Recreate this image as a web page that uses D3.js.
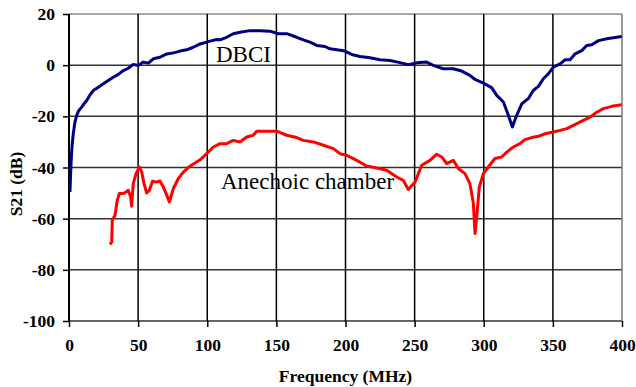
<!DOCTYPE html>
<html>
<head>
<meta charset="utf-8">
<script src="https://d3js.org/d3.v7.min.js"></script>
<style type="text/css">
    body { margin: 0; background: #fff; }
</style>
</head>
<body>
<script type="text/javascript">

// DBCI series (frequency MHz, S21 dB)
var dbciFreq = [0.7, 1.2, 1.7, 2.3, 3.1, 4.2, 5.6, 7, 9, 11, 12.8, 15, 17.6, 21.2, 24.8, 28.4, 32, 35.7, 39.3, 42.9, 46.5, 50.1, 53.7, 57.4, 61, 65.8, 70.7, 75.5, 80.3, 85.1, 89.9, 94.8, 99.6, 102, 106.8, 109.2, 114, 118.8, 123.7, 130.9, 138.2, 145.4, 151.4, 157.5, 164.7, 169.5, 174.3, 179.2, 185.2, 188.8, 193.6, 199.6, 204.5, 210.5, 217.7, 225, 232.2, 239.4, 245.4, 251.5, 258.7, 263.5, 270.7, 278, 284, 290, 293.7, 299.7, 305.7, 309.4, 314.2, 317.8, 320.7, 323.8, 327.5, 332.2, 335.8, 339.5, 343.1, 346.7, 350.3, 355.2, 358.8, 362.4, 366, 370.9, 374.5, 378.1, 383, 389, 393.8, 399.8];
var dbciS21 = [-49.6, -42, -36, -31, -26.8, -22.5, -19.6, -17.8, -16.5, -15, -13.8, -11.8, -9.9, -8.6, -7.3, -6.0, -4.7, -3.6, -2.1, -1.2, 0.3, -0.1, 1.2, 0.8, 2.5, 3.1, 4.4, 4.8, 5.5, 6.0, 7.0, 8.3, 9.0, 9.4, 10.0, 9.9, 10.9, 12.3, 12.9, 13.5, 13.5, 13.3, 12.3, 12.3, 10.9, 9.9, 9.0, 7.7, 7.3, 6.4, 6.0, 5.5, 4.2, 3.4, 2.9, 2.1, 1.8, 1.0, 0.2, 0.9, 1.2, -0.1, -1.4, -1.4, -2.3, -4.0, -5.6, -7.0, -8.8, -11.8, -14.4, -19.6, -24.2, -19.6, -15.1, -13.1, -9.9, -8.3, -5.3, -3.4, -0.8, 0.5, 2.1, 2.1, 4.4, 5.7, 7.7, 8.0, 9.6, 10.3, 10.7, 11.2];

// Anechoic chamber series
var anechFreq = [29.7, 30.9, 31.3, 33.3, 34.9, 36.4, 39.3, 41.2, 42.9, 44.6, 45.3, 46.5, 48.5, 50.9, 52.6, 54.3, 56.2, 58.1, 60.5, 62.9, 65.8, 68.2, 70.7, 72.6, 75.5, 79.1, 82.7, 87.5, 94.8, 99.6, 104.4, 109.2, 114, 118.8, 123.7, 128.5, 133.3, 135.8, 143, 150.2, 157.5, 164.7, 169.5, 176.7, 184, 191.2, 196, 200.9, 208.1, 215.3, 222.6, 229.8, 237, 241.8, 245.4, 250.3, 255.1, 261.1, 266, 269.6, 273.2, 278, 281.6, 286.4, 290, 292.5, 293.7, 294.9, 296.8, 299.7, 303.3, 308.1, 313, 316.6, 321.4, 326.2, 329.8, 334.7, 339.5, 344.3, 350.3, 355.2, 360, 364.8, 370.9, 376.9, 381.7, 386.5, 392.6, 399.8];
var anechS21 = [-70.1, -69.1, -60.6, -58.7, -52.8, -50.2, -50.2, -49.6, -48.9, -51.5, -55.1, -46.3, -42.4, -39.8, -41.8, -46.3, -50.0, -48.9, -45.3, -45.7, -45.3, -47.6, -50.8, -53.5, -48.2, -44.3, -41.8, -39.5, -37.0, -34.6, -32.0, -30.7, -30.7, -29.4, -30.0, -28.1, -27.4, -25.8, -25.8, -25.8, -27.4, -28.3, -29.4, -30.0, -31.3, -32.6, -34.6, -35.2, -37.2, -39.4, -40.2, -41.1, -43.7, -45.0, -48.6, -45.7, -39.1, -37.2, -34.8, -35.9, -38.5, -37.2, -40.4, -42.4, -46.3, -54.1, -65.8, -59.3, -47.6, -42.4, -39.8, -36.5, -35.9, -34.0, -32.0, -30.7, -29.1, -28.3, -27.8, -26.8, -26.1, -25.5, -24.8, -23.5, -21.9, -20.3, -18.4, -17.0, -16.1, -15.5];

var xTicks = [0, 50, 100, 150, 200, 250, 300, 350, 400];
var yTicks = [-100, -80, -60, -40, -20, 0, 20];

var width = 636, height = 387;
var margin = { top: 14, right: 14, bottom: 66, left: 69 };
var serif = "'Liberation Serif', 'Times New Roman', serif";

var svg = d3.select("body").append("svg")
    .attr("width", width)
    .attr("height", height);

var x = d3.scaleLinear().domain([0, 400]).range([margin.left, width - margin.right]);
var y = d3.scaleLinear().domain([-100, 20]).range([height - margin.bottom, margin.top]);

// horizontal grid
svg.append("g")
    .selectAll("line")
    .data(yTicks)
    .enter().append("line")
    .attr("x1", x(0)).attr("x2", x(400))
    .attr("y1", function (d) { return y(d); })
    .attr("y2", function (d) { return y(d); })
    .style("stroke", function (d) { return d == 20 ? "#888" : "#333"; })
    .style("stroke-width", 1.5);

// vertical grid
svg.append("g")
    .selectAll("line")
    .data(xTicks)
    .enter().append("line")
    .attr("x1", function (d) { return x(d); })
    .attr("x2", function (d) { return x(d); })
    .attr("y1", y(20)).attr("y2", y(-100))
    .style("stroke", function (d) { return d == 400 ? "#777" : "#000"; })
    .style("stroke-width", function (d) { return d == 0 ? 2 : 1.5; });

// axes (plain hyphen for negatives, like the original)
var fmt = function (d) { return String(d); };
var xAxis = svg.append("g")
    .attr("transform", "translate(0," + y(-100) + ")")
    .call(d3.axisBottom(x).tickValues(xTicks).tickFormat(fmt).tickSize(6).tickSizeOuter(0).tickPadding(12));
var yAxis = svg.append("g")
    .attr("transform", "translate(" + x(0) + ",0)")
    .call(d3.axisLeft(y).tickValues(yTicks).tickFormat(fmt).tickSize(6).tickSizeOuter(0).tickPadding(8));
[xAxis, yAxis].forEach(function (a) {
    a.select(".domain").remove();
    a.attr("font-family", null).attr("font-size", null);
    a.selectAll(".tick line").style("stroke", "#000").style("stroke-width", 1.5);
    a.selectAll(".tick text")
        .style("font-family", serif)
        .style("font-weight", "bold")
        .style("font-size", "17.5px")
        .style("fill", "#000");
});

// series
var line = d3.line()
    .x(function (d) { return x(d[0]); })
    .y(function (d) { return y(d[1]); });

svg.append("path")
    .datum(anechFreq.map(function (f, i) { return [f, anechS21[i]]; }))
    .attr("d", line)
    .style("fill", "none")
    .style("stroke", "#ff0000")
    .style("stroke-width", 3)
    .style("stroke-linejoin", "round");

svg.append("path")
    .datum(dbciFreq.map(function (f, i) { return [f, dbciS21[i]]; }))
    .attr("d", line)
    .style("fill", "none")
    .style("stroke", "#000080")
    .style("stroke-width", 3)
    .style("stroke-linejoin", "round");

// labels
svg.append("text")
    .attr("x", 216).attr("y", 62)
    .style("font-family", serif).style("font-size", "23px")
    .text("DBCI");
svg.append("text")
    .attr("x", 221).attr("y", 189)
    .style("font-family", serif).style("font-size", "23px")
    .text("Anechoic chamber");

// axis titles
svg.append("text")
    .attr("x", (x(0) + x(400)) / 2).attr("y", 382)
    .attr("text-anchor", "middle")
    .style("font-family", serif).style("font-weight", "bold").style("font-size", "17.5px")
    .text("Frequency (MHz)");
svg.append("text")
    .attr("transform", "translate(22,184) rotate(-90)")
    .attr("text-anchor", "middle")
    .style("font-family", serif).style("font-weight", "bold").style("font-size", "17.5px")
    .text("S21 (dB)");

</script>
</body>
</html>
